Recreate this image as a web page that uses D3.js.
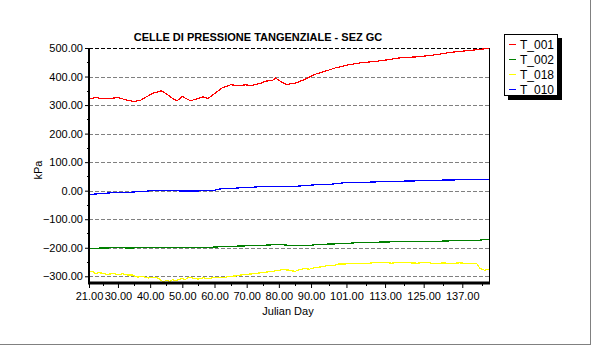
<!DOCTYPE html>
<html><head><meta charset="utf-8">
<script src="https://cdn.jsdelivr.net/npm/d3@7"></script>
<style>html,body{margin:0;padding:0;background:#fff;overflow:hidden}svg{display:block}text{font-family:Arial,"Liberation Sans",sans-serif}</style>
</head><body>
<script>
const title = "CELLE DI PRESSIONE TANGENZIALE - SEZ GC";
const xTickLabels = [21, 30, 40, 50, 60, 70, 80, 90, 101, 113, 125, 137];
const yTicks = [-300, -200, -100, 0, 100, 200, 300, 400, 500];
const seriesNames = ["T_001", "T_002", "T_018", "T_010"];
const seriesColors = ["#ff0000", "#008000", "#ffff00", "#0000ff"];

const t001 = [[21,322],[23,326],[26,322],[28,324],[30,326],[33,317],[35,312],[37,317],[39,330],[41,342],[43.5,350],[45.5,336],[47.5,319],[48.5,316],[50,330],[52.5,315],[54.5,322],[56.5,329],[58,323],[60,340],[62.5,361],[65,371],[68,368],[69.5,371],[71.5,369],[74,375],[76,384],[78,386],[79,395],[81,379],[82.5,372],[85.5,378],[88,390],[91,407],[94.5,419],[97.5,430],[101.5,441],[105.5,448],[110,453],[114,459],[118,466],[123,469],[128.5,476],[133.5,485],[138,490],[142.5,495],[145.3,499]];
const t002 = [[21,-202],[25,-201],[30,-200],[34,-201],[39.5,-198],[45.5,-198],[51,-198],[55,-200],[59,-198],[63,-196],[67.5,-194],[71.5,-193],[75.5,-191],[80,-189],[83,-191],[86,-192],[89,-192],[92,-189],[95.5,-187],[99.5,-186],[104.5,-182],[112,-180],[117,-179],[123,-178],[129.5,-177],[136,-175],[141,-175],[143.5,-172],[145.3,-172]];
const t018 = [[21,-285],[22,-282],[23,-291],[24,-287],[25,-289],[26,-292],[27,-293],[28.5,-290],[30,-294],[31.5,-291],[33,-296],[34.5,-295],[36,-303],[37.5,-300],[39.5,-306],[41,-303],[42,-305],[43,-310],[44,-320],[45,-314],[46,-318],[47,-312],[48,-315],[50,-308],[51,-311],[52,-303],[53.5,-307],[55,-310],[56.5,-305],[58,-309],[59,-306],[61,-303],[63,-305],[64.5,-300],[66.5,-299],[68,-296],[69.5,-293],[71.5,-292],[73.5,-289],[75.5,-286],[78,-283],[79.5,-280],[81,-277],[83,-278],[85,-283],[86.5,-276],[88,-273],[89.5,-275],[91,-270],[93,-267],[95.5,-262],[97,-263],[98.5,-257],[100.5,-257],[102.5,-254],[105,-256],[108,-254],[110,-252],[113,-252],[115,-254],[118,-251],[121,-253],[123,-254],[126,-251],[128.5,-256],[131,-253],[133.5,-255],[136,-253],[139,-255],[141.5,-256],[142.5,-272],[144,-279],[145.3,-275]];
const t010 = [[21,-13],[24,-11],[26,-9],[30,-6],[33,-6],[38,-2.5],[40.5,0],[44,2],[47,0],[49.5,-1],[54,-1],[59.5,0],[61.5,6],[66.5,9],[71.5,12],[74.5,14],[79.5,16],[82.5,15],[85,15],[88,18],[92,21],[96.5,23],[100.5,28],[105.5,29],[111,31],[116,33],[121,34],[126.5,35],[130.5,37],[136,38],[141,38.5],[145.3,40]];
const seriesData = [t001, t002, t018, t010];

const W = 592, H = 346;
const L = 89, R = 489, T = 48, B = 283;
const svg = d3.select("body").append("svg").attr("width", W).attr("height", H);

// outer sunken border (right & bottom)
svg.append("line").attr("x1", 590.5).attr("x2", 590.5).attr("y1", 0).attr("y2", 345).attr("stroke", "#808080");
svg.append("line").attr("x1", 0).attr("x2", 591).attr("y1", 344.5).attr("y2", 344.5).attr("stroke", "#808080");

const x = d3.scaleLinear().domain([21, 145.3]).range([L, R]);
const y = d3.scaleLinear().domain([-323.5, 500]).range([B, T]);

// gridlines
svg.append("g").selectAll("line").data(yTicks.filter(v => v < 500)).join("line")
  .attr("x1", L).attr("x2", R)
  .attr("y1", d => Math.round(y(d)) + 0.5).attr("y2", d => Math.round(y(d)) + 0.5)
  .attr("stroke", "#808080").attr("stroke-dasharray", "4,2");
// top border dashed black
svg.append("line").attr("x1", L).attr("x2", R).attr("y1", Math.round(y(500)) + 0.5).attr("y2", Math.round(y(500)) + 0.5)
  .attr("stroke", "#000").attr("stroke-dasharray", "4,2");
// right border
svg.append("line").attr("x1", R + 0.5).attr("x2", R + 0.5).attr("y1", T).attr("y2", B).attr("stroke", "#000");

// series
const line = d3.line().x(d => x(d[0])).y(d => y(d[1]));
const gS = svg.append("g");
seriesData.forEach((s, i) => {
  gS.append("path").attr("d", line(s)).attr("fill", "none")
    .attr("stroke", seriesColors[i]).attr("stroke-width", 1.2)
    .attr("shape-rendering", "crispEdges");
});

// y axis
const yMinor = d3.pairs(yTicks).map(p => (p[0] + p[1]) / 2);
const yAxis = d3.axisLeft(y).tickValues(yTicks).tickSize(4).tickFormat(d3.format(".2f"));
const gy = svg.append("g").attr("transform", `translate(${L},0)`).call(yAxis);
gy.select(".domain").remove();
gy.selectAll(".tick line").attr("stroke", "#000");
gy.selectAll(".tick text").attr("font-size", 11).attr("fill", "#000").attr("x", -6);
svg.append("g").selectAll("line").data(yMinor).join("line")
  .attr("x1", L - 2).attr("x2", L).attr("y1", d => Math.round(y(d)) + 0.5).attr("y2", d => Math.round(y(d)) + 0.5).attr("stroke", "#000");
svg.append("line").attr("x1", L).attr("x2", L).attr("y1", T).attr("y2", B + 1).attr("stroke", "#000").attr("stroke-width", 2);

// x axis
const xAxis = d3.axisBottom(x).tickValues(xTickLabels).tickSize(5).tickFormat(d3.format(".2f"));
const gx = svg.append("g").attr("transform", `translate(0,${B})`).call(xAxis);
gx.select(".domain").remove();
gx.selectAll(".tick line").attr("stroke", "#000");
gx.selectAll(".tick text").attr("font-size", 11).attr("fill", "#000").attr("y", 9);
const xMinor = d3.pairs(xTickLabels).map(p => (p[0] + p[1]) / 2).concat([143]);
svg.append("g").selectAll("line").data(xMinor).join("line")
  .attr("x1", d => Math.round(x(d)) + 0.5).attr("x2", d => Math.round(x(d)) + 0.5)
  .attr("y1", B).attr("y2", B + 3).attr("stroke", "#000");
svg.append("line").attr("x1", L - 1).attr("x2", R + 1).attr("y1", B).attr("y2", B).attr("stroke", "#000").attr("stroke-width", 3);

// labels
svg.append("text").attr("x", 258).attr("y", 41).attr("text-anchor", "middle")
  .attr("font-size", 11).attr("font-weight", "bold").text(title);
svg.append("text").attr("x", 288).attr("y", 315).attr("text-anchor", "middle").attr("font-size", 11).text("Julian Day");
svg.append("text").attr("transform", "translate(42,170) rotate(-90)").attr("text-anchor", "middle").attr("font-size", 11).text("kPa");

// legend
const lg = svg.append("g");
lg.append("rect").attr("x", 508).attr("y", 38).attr("width", 54).attr("height", 62).attr("fill", "#000");
lg.append("rect").attr("x", 504.5).attr("y", 34.5).attr("width", 53).attr("height", 61).attr("fill", "#fff").attr("stroke", "#000");
seriesNames.forEach((n, i) => {
  const yy = 44 + i * 15;
  lg.append("line").attr("x1", 509).attr("x2", 516).attr("y1", yy + 0.5).attr("y2", yy + 0.5).attr("stroke", seriesColors[i]);
  lg.append("text").attr("x", 520).attr("y", yy + 4.5).attr("font-size", 12).text(n);
});
</script>
</body></html>
